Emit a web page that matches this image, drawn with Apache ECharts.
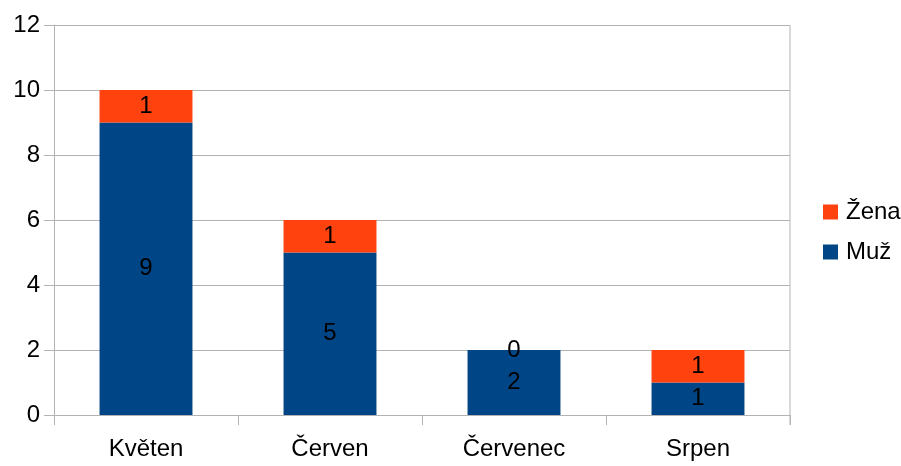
<!DOCTYPE html>
<html>
<head>
<meta charset="utf-8">
<script src="https://cdn.jsdelivr.net/npm/echarts@6/dist/echarts.min.js"></script>
<style>
html, body { margin: 0; padding: 0; background: #fff; }
#chart { width: 901px; height: 466px; }
</style>
</head>
<body>
<div id="chart"></div>
<script>
var months = ['Květen', 'Červen', 'Červenec', 'Srpen'];
var muz = [9, 5, 2, 1];
var zena = [1, 1, 0, 1];
var yTicks = [0, 2, 4, 6, 8, 10, 12];

var font = 'Liberation Sans, Arial, sans-serif';
var gridColor = '#b3b3b3';

var chart = echarts.init(document.getElementById('chart'));

function barLabel() {
    return {
        show: true,
        position: 'inside',
        color: '#000',
        fontFamily: font,
        fontSize: 24
    };
}

chart.setOption({
    animation: false,
    grid: { left: 54, right: 111, top: 25, bottom: 51, containLabel: false },
    legend: {
        data: ['Žena', 'Muž'],
        orient: 'vertical',
        left: 818,
        top: 195,
        itemWidth: 15,
        itemHeight: 15,
        itemGap: 16,
        icon: 'rect',
        textStyle: { fontFamily: font, fontSize: 24, color: '#000', lineHeight: 24, padding: [0, 0, 0, 3] }
    },
    xAxis: {
        type: 'category',
        data: months,
        axisLine: { lineStyle: { color: gridColor } },
        axisTick: { show: true, length: 10, lineStyle: { color: gridColor } },
        axisLabel: { fontFamily: font, fontSize: 24, color: '#000', margin: 22 },
        splitLine: { show: false }
    },
    yAxis: {
        type: 'value',
        min: yTicks[0],
        max: yTicks[yTicks.length - 1],
        interval: 2,
        axisLine: { show: true, lineStyle: { color: gridColor } },
        axisTick: { show: true, length: 10, lineStyle: { color: gridColor } },
        axisLabel: { fontFamily: font, fontSize: 24, color: '#000', margin: 14 },
        splitLine: { show: true, lineStyle: { color: gridColor } }
    },
    series: [
        {
            name: 'Muž',
            type: 'bar',
            stack: 'total',
            data: muz,
            barWidth: '50.5%',
            itemStyle: { color: '#004586' },
            label: barLabel()
        },
        {
            name: 'Žena',
            type: 'bar',
            stack: 'total',
            data: zena,
            barWidth: '50.5%',
            itemStyle: { color: '#ff420e' },
            label: barLabel()
        }
    ],
    graphic: [{
        type: 'line',
        shape: { x1: 790, y1: 25, x2: 790, y2: 425 },
        style: { stroke: gridColor, lineWidth: 1 }
    }]
});
</script>
</body>
</html>
